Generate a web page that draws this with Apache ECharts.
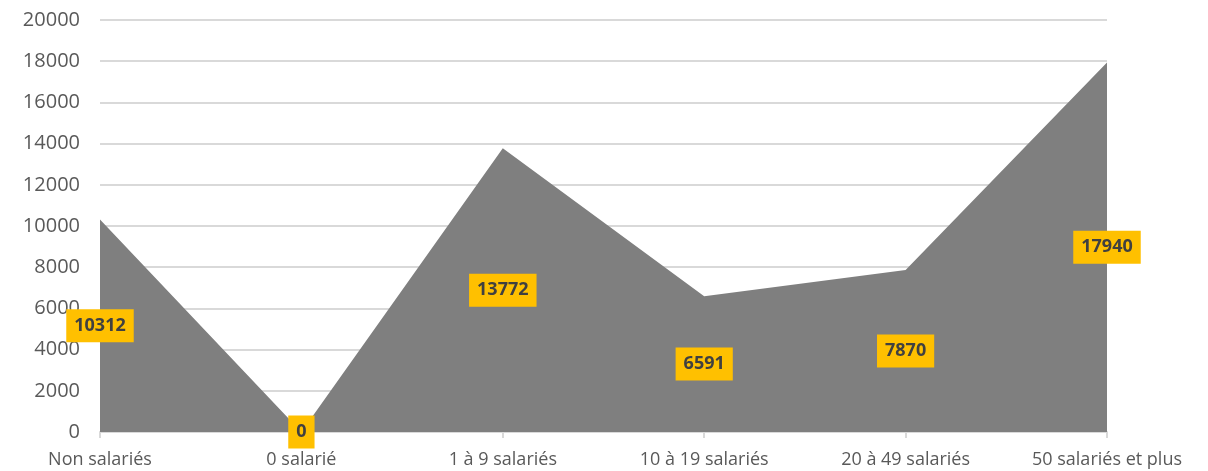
<!DOCTYPE html>
<html>
<head>
<meta charset="utf-8">
<script src="https://cdn.jsdelivr.net/npm/echarts@6/dist/echarts.min.js"></script>
<style>
  html, body { margin: 0; padding: 0; background: #fff; }
  #chart { width: 1208px; height: 471px; }
</style>
</head>
<body>
<div id="chart"></div>
<script>
// Effectifs par taille d'établissement
const categories = ["Non salariés", "0 salarié", "1 à 9 salariés", "10 à 19 salariés", "20 à 49 salariés", "50 salariés et plus"];
const values = [10312, 0, 13772, 6591, 7870, 17940];

// labels sit halfway up the area, like the spreadsheet's "center" placement
const labelPoints = values.map((v, i) => [i, v / 2, v]);

const chart = echarts.init(document.getElementById("chart"));
chart.setOption({
  animation: false,
  grid: { left: 100, right: 101, top: 20, bottom: 39 },
  xAxis: {
    type: "category",
    data: categories,
    boundaryGap: false,
    axisLine: { lineStyle: { color: "#d9d9d9", width: 2 } },
    axisTick: { show: true, length: 6, lineStyle: { color: "#d9d9d9", width: 2 } },
    axisLabel: { color: "#595959", fontSize: 18, fontFamily: "Open Sans", margin: 19 },
  },
  yAxis: {
    type: "value",
    min: 0,
    max: 20000,
    interval: 2000,
    axisLine: { show: false },
    axisTick: { show: false },
    splitLine: { lineStyle: { color: "#d9d9d9", width: 2 } },
    axisLabel: { color: "#595959", fontSize: 20, fontFamily: "Open Sans", margin: 20, formatter: (v) => String(v) },
  },
  series: [
    {
      type: "line",
      data: values,
      symbol: "none",
      z: 1,
      lineStyle: { width: 0 },
      areaStyle: { color: "#7f7f7f", opacity: 1 },
    },
    {
      type: "scatter",
      data: labelPoints,
      symbolSize: 1,
      itemStyle: { color: "rgba(0,0,0,0)", opacity: 1 },
      z: 10,
      clip: false,
      silent: true,
      labelLayout: { hideOverlap: false },
      label: {
        show: true,
        position: "inside",
        formatter: (p) => String(p.data[2]),
        backgroundColor: "#ffc000",
        color: "#404040",
        fontWeight: "bold",
        fontSize: 18,
        fontFamily: "Noto Sans",
        padding: [8, 8, 7, 8],
      },
    },
  ],
});
</script>
</body>
</html>
